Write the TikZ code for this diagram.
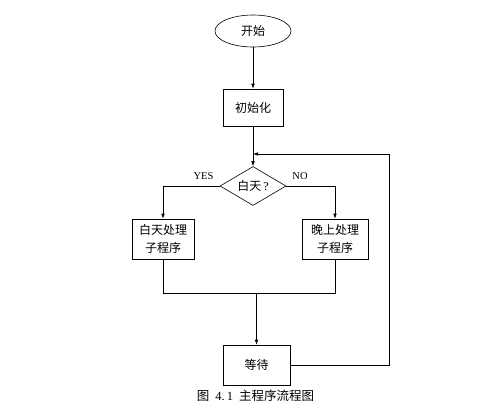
\documentclass[tikz,border=0pt]{standalone}
\usepackage{fontspec}
\setmainfont{Liberation Serif}
\newfontfamily\cjk{Noto Sans CJK SC}
\usetikzlibrary{shapes.geometric,arrows.meta}
\begin{document}
\begin{tikzpicture}[x=1pt,y=-1pt,
  line width=0.6pt,
  box/.style={draw, rectangle, inner sep=0pt, align=center, font=\cjk\fontsize{12}{18}\selectfont},
  arr/.style={-{Latex[length=5pt,width=3.6pt]}},
  lab/.style={font=\fontsize{10.5}{12}\selectfont, inner sep=0pt}]
\useasboundingbox (0,0) rectangle (484,413);
\node[draw, ellipse, minimum width=76pt, minimum height=32pt, inner sep=0pt, font=\cjk\fontsize{12}{14}\selectfont] (start) at (253,31) {开始};
\node[box, minimum width=60pt, minimum height=37pt] (init) at (253,107.5) {初始化};
\node[draw, diamond, minimum width=66pt, minimum height=39pt, inner sep=0pt, shape aspect=1.7, font=\fontsize{12}{14}\selectfont] (dec) at (253,186) {{\cjk 白天}\,?};
\node[box, minimum width=62pt, minimum height=40pt] (day) at (163,239) {白天处理\\子程序};
\node[box, minimum width=66pt, minimum height=40pt] (night) at (335,239) {晚上处理\\子程序};
\node[box, minimum width=67pt, minimum height=40pt] (wait) at (256.5,365) {等待};
\node[lab] (yes) at (203.5,176) {YES};
\node[lab] (no) at (300,176) {NO};
\node[font=\fontsize{12.5}{14}\selectfont, inner sep=0pt] (cap) at (255.5,396) {{\cjk 图}\hspace{6pt}4.\hspace{2pt}1\hspace{6pt}{\cjk 主程序流程图}};
\coordinate (j) at (253,154);
\coordinate (fb) at (389,154);
\coordinate (mL) at (163,293);
\coordinate (mR) at (335,293);
\coordinate (mM) at (256.5,293);
\draw[arr] (start) -- (init);
\draw[arr] (init) -- (dec);
\draw[arr] (dec.west) -| (day.north);
\draw[arr] (dec.east) -| (night.north);
\draw (day.south) -- (mL) -- (mR) -- (night.south);
\draw[arr] (mM) -- (wait.north);
\draw[arr] (wait.east) -| (fb) -- (j);
\end{tikzpicture}
\end{document}
